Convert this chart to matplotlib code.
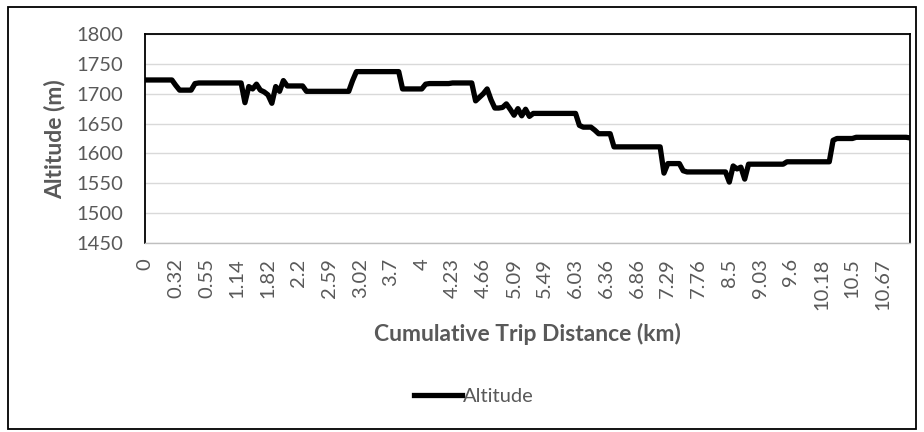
import matplotlib.pyplot as plt
from matplotlib.patches import Rectangle

plt.rcParams['font.family'] = ['Lato', 'DejaVu Sans']

# altitude samples (m), one per logged point
altitude = [
    1723, 1723, 1723, 1723, 1723, 1723, 1723, 1723, 1714, 1706,
    1706, 1706, 1706, 1717, 1718, 1718, 1718, 1718, 1718, 1718,
    1718, 1718, 1718, 1718, 1718, 1718, 1685, 1712, 1708, 1716,
    1706, 1703, 1698, 1684, 1712, 1704, 1722, 1713, 1713, 1713,
    1713, 1713, 1704, 1704, 1704, 1704, 1704, 1704, 1704, 1704,
    1704, 1704, 1704, 1704, 1722, 1737, 1737, 1737, 1737, 1737,
    1737, 1737, 1737, 1737, 1737, 1737, 1737, 1708, 1708, 1708,
    1708, 1708, 1708, 1716, 1717, 1717, 1717, 1717, 1717, 1717,
    1718, 1718, 1718, 1718, 1718, 1718, 1688, 1694, 1700, 1708,
    1690, 1676, 1676, 1677, 1683, 1674, 1664, 1675, 1663, 1674,
    1662, 1667, 1667, 1667, 1667, 1667, 1667, 1667, 1667, 1667,
    1667, 1667, 1667, 1647, 1644, 1644, 1644, 1639, 1633, 1633,
    1633, 1633, 1611, 1611, 1611, 1611, 1611, 1611, 1611, 1611,
    1611, 1611, 1611, 1611, 1611, 1567, 1583, 1583, 1583, 1583,
    1571, 1569, 1569, 1569, 1569, 1569, 1569, 1569, 1569, 1569,
    1569, 1569, 1552, 1579, 1574, 1577, 1557, 1582, 1582, 1582,
    1582, 1582, 1582, 1582, 1582, 1582, 1582, 1586, 1586, 1586,
    1586, 1586, 1586, 1586, 1586, 1586, 1586, 1586, 1586, 1622,
    1625, 1625, 1625, 1625, 1625, 1627, 1627, 1627, 1627, 1627,
    1627, 1627, 1627, 1627, 1627, 1627, 1627, 1627, 1627, 1626,
]

# cumulative distance (km) shown every 8th point
dist_labels = ['0', '0.32', '0.55', '1.14', '1.82', '2.2', '2.59', '3.02',
               '3.7', '4', '4.23', '4.66', '5.09', '5.49', '6.03', '6.36',
               '6.86', '7.29', '7.76', '8.5', '9.03', '9.6', '10.18', '10.5',
               '10.67']
label_step = 8

gray = '#595959'

fig = plt.figure(figsize=(9.24, 4.32), dpi=100)
ax = fig.add_axes([145 / 924, 1 - 243 / 432, 765 / 924, 209 / 432])

ax.plot(range(len(altitude)), altitude, color='black', lw=3.8,
        solid_joinstyle='round', label='Altitude')

ax.set_xlim(0, len(altitude) - 1)
ax.set_ylim(1450, 1800)
ax.set_yticks(range(1450, 1801, 50))
ax.set_xticks(range(0, len(altitude), label_step))
ax.set_xticklabels(dist_labels, rotation=90)
ax.tick_params(length=0, labelsize=14.5, colors=gray)
ax.tick_params(axis='x', pad=11)
ax.tick_params(axis='y', pad=16)
ax.grid(axis='y', color='#d9d9d9', lw=1)
ax.set_axisbelow(True)

for s in ['top', 'left', 'right']:
    ax.spines[s].set_color('black')
    ax.spines[s].set_linewidth(1.3)
ax.spines['bottom'].set_color('#bfbfbf')
ax.spines['bottom'].set_linewidth(1)

fig.text(55 / 924, 1 - 139 / 432, 'Altitude (m)', rotation=90,
         ha='center', va='center', fontsize=16.5, fontweight='bold',
         color=gray)
fig.text(527 / 924, 1 - 334 / 432, 'Cumulative Trip Distance (km)',
         ha='center', va='center', fontsize=16.5, fontweight='bold',
         color=gray)

fig.legend(loc='center', bbox_to_anchor=(474 / 924, 1 - 396 / 432),
           frameon=False, fontsize=14.5, labelcolor=gray, handlelength=2.4,
           handletextpad=0.05)

fig.patches.append(Rectangle((8 / 924, 3 / 432), 908 / 924, 422 / 432,
                             transform=fig.transFigure, fill=False,
                             edgecolor='black', lw=1.3))

fig.savefig('out.png', dpi=100)
